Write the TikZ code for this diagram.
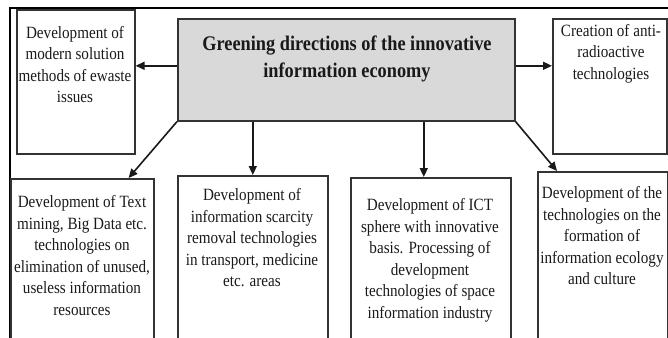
\documentclass[tikz,border=0pt]{standalone}
\usepackage{fontspec}
\setmainfont[FakeStretch=0.88]{Liberation Serif}
\usetikzlibrary{arrows.meta}

\begin{document}
\begin{tikzpicture}[x=1pt,y=-1pt,
    box/.style={draw=black!80,line width=1.6pt,inner sep=0pt,anchor=north west},
    txt/.style={anchor=north,inner sep=0pt,align=center,text=black!90,
      font=\fontsize{17.2}{21.5}\selectfont},
    arr/.style={-{Triangle[length=9pt,width=8pt]},line width=1.6pt,draw=black!90}]
    \clip (0,0) rectangle (668,337);
    % outer frame
    \draw[line width=1.2pt] (10,345) -- (10,8) -- (670,8);

    \node (G) [box,fill=black!15,minimum width=337pt,minimum height=102pt] at (177,18) {};
    \node (T1) [box,minimum width=118pt,minimum height=144pt] at (16,9) {};
    \node (T2) [box,minimum width=114pt,minimum height=135pt] at (552,18) {};
    \node (D1) [box,minimum width=143pt,minimum height=180pt] at (10,178) {};
    \node (D2) [box,minimum width=150pt,minimum height=180pt] at (177,175) {};
    \node (D3) [box,minimum width=160pt,minimum height=180pt] at (350,177) {};
    \node (D4) [box,minimum width=130pt,minimum height=180pt] at (537,171) {};

    \node (GT) [txt,font=\bfseries\fontsize{20.8}{26.5}\selectfont] at (347,36)
      {Greening directions of the innovative\\ information economy};
    \node (T1T) [txt] at (75,26)
      {Development of\\ modern solution\\ methods of ewaste\\ issues};
    \node (T2T) [txt] at (611,24)
      {Creation of anti-\\ radioactive\\ technologies};
    \node (D1T) [txt] at (82,195.4)
      {Development of Text\\ mining, Big Data etc.\\ technologies on\\
       elimination of unused,\\ useless information\\ resources};
    \node (D2T) [txt] at (252,188.4)
      {Development of\\ information scarcity\\ removal technologies\\
       in transport, medicine\\ etc. areas};
    \node (D3T) [txt] at (430,198.4)
      {Development of ICT\\ sphere with innovative\\ basis. Processing of\\
       development\\ technologies of space\\ information industry};
    \node (D4T) [txt] at (602,186.4)
      {Development of the\\ technologies on the\\ formation of\\
       information ecology\\ and culture};

    \coordinate (c3) at ([xshift=-7pt]D3.north);
    \draw[arr] ([yshift=4pt]G.west) -- ([yshift=4pt]G.west -| T1.east);
    \draw[arr] ([yshift=4pt]G.east) -- ([yshift=4pt]G.east -| T2.west);
    \draw[arr] (G.south west) -- ([xshift=-26pt]D1.north east);
    \draw[arr] (G.south -| D2.north) -- (D2.north);
    \draw[arr] (G.south -| c3) -- (c3);
    \draw[arr] (G.south east) -- ([xshift=20pt]D4.north west);
\end{tikzpicture}
\end{document}
